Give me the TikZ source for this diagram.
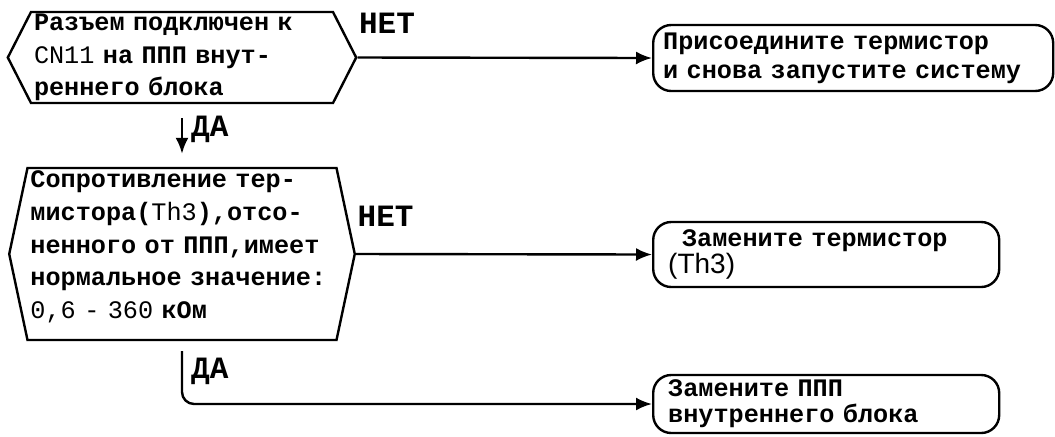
\documentclass[tikz,border=0pt]{standalone}
\usepackage{fontspec}
\setmainfont{Liberation Mono}
\newfontfamily\thfont{Liberation Sans}
\usetikzlibrary{shapes.symbols,arrows.meta}
\tikzset{cond/.style={signal,signal to=west and east,draw,line width=1.2pt,align=left,font=\fontsize{12.6}{16.4}\selectfont\bfseries,inner xsep=1.5pt,inner ysep=0pt}}
\tikzset{act/.style={rectangle,draw,rounded corners=9pt,line width=1.2pt,align=left,anchor=west,font=\fontsize{12.6}{14.5}\selectfont\bfseries,inner xsep=7.5pt,inner ysep=0pt}}
\tikzset{ans/.style={font=\fontsize{15.5}{15.5}\selectfont\bfseries,inner sep=0pt}}

\begin{document}
\begin{tikzpicture}[x=0.5pt,y=-0.5pt,>={Latex[length=8pt,width=6.5pt]},line width=1.2pt]
        \useasboundingbox (0,0) rectangle (1055,436);
        \node[cond,text width=148pt,minimum height=45.5pt,signal pointer angle=126] (q1) at (182,57.5) {Разъем подключен к\\\textmd{CN11} на ППП внут-\\реннего блока};
        \node[cond,text width=151.5pt,minimum height=86pt,signal pointer angle=156] (q2) at (182,254) {Сопротивление тер-\\мистора(\textmd{Th3}),отсо-\\ненного от ППП,имеет\\нормальное значение:\\\textmd{0,6 - 360} кОм\\[-7pt]\mbox{}};
        \node[act,text width=190pt,inner xsep=5pt,minimum height=33pt] (b1) at (652,58) {Присоедините термистор\\и снова запустите систему};
        \node[act,text width=158pt,minimum height=32.5pt] (b2) at (652,254.5) {\hspace*{0.55em}Замените термистор\\[-1pt]{\thfont\mdseries\fontsize{14}{14}\selectfont(Th3)}};
        \node[act,text width=158pt,minimum height=29pt] (b3) at (652,404) {Замените ППП\\[-1.5pt]внутреннего блока};

        \draw [->] (q1.east) to node[ans,pos=0.1,above=11.5pt] (no1) {НЕТ} (b1.west);
        \draw [->] (q2.east) to node[ans,pos=0.1,above=13pt] (no2) {НЕТ} (b2.west);
        \draw [->] ([yshift=-7pt]q1.south) to node[ans,pos=0.32,right=4pt] (yes1) {ДА} ([yshift=6.5pt]q2.north);
        \draw [->,rounded corners=6pt] ([yshift=-5pt]q2.south) |- node[ans,pos=0.19,right=4pt] (yes2) {ДА} (b3.west);
    \end{tikzpicture}
\end{document}
